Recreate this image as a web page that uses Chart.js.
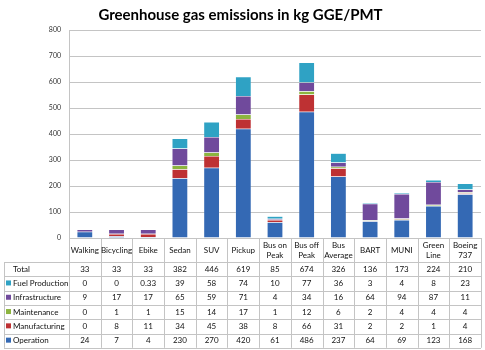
<!DOCTYPE html>
<html>
<head>
<meta charset="utf-8">
<script src="https://cdn.jsdelivr.net/npm/chart.js@4"></script>
<style>
  html, body { margin: 0; padding: 0; background: #fff; }
  #wrap { width: 485px; height: 350px; }
</style>
</head>
<body>
<div id="wrap"><canvas id="c"></canvas></div>
<script>
// categories (multi-line where the table header wraps)
const categories = ['Walking', 'Bicycling', 'Ebike', 'Sedan', 'SUV', 'Pickup',
  ['Bus on', 'Peak'], ['Bus off', 'Peak'], ['Bus', 'Average'], 'BART', 'MUNI',
  ['Green', 'Line'], ['Boeing', '737']];

// series values, kg GGE/PMT
const operation      = [24, 7, 4, 230, 270, 420, 61, 486, 237, 64, 69, 123, 168];
const manufacturing  = [0, 8, 11, 34, 45, 38, 8, 66, 31, 2, 2, 1, 4];
const maintenance    = [0, 1, 1, 15, 14, 17, 1, 12, 6, 2, 4, 4, 4];
const infrastructure = [9, 17, 17, 65, 59, 71, 4, 34, 16, 64, 94, 87, 11];
const fuelProduction = [0, 0, 0.33, 39, 58, 74, 10, 77, 36, 3, 4, 8, 23];
const totals         = [33, 33, 33, 382, 446, 619, 85, 674, 326, 136, 173, 224, 210];

const yTicks = [0, 100, 200, 300, 400, 500, 600, 700, 800];

const colors = {
  operation: '#3469b4',
  manufacturing: '#be3133',
  maintenance: '#8cb43f',
  infrastructure: '#704a9c',
  fuel: '#2fa2c4'
};

const FONT = 'Lato, "Open Sans", sans-serif';
const gridColor = '#c4c4c4';

// table rows drawn under the plot (top to bottom)
const tableRows = [
  { label: 'Total', values: totals, color: null },
  { label: 'Fuel Production', values: fuelProduction, color: colors.fuel },
  { label: 'Infrastructure', values: infrastructure, color: colors.infrastructure },
  { label: 'Maintenance', values: maintenance, color: colors.maintenance },
  { label: 'Manufacturing', values: manufacturing, color: colors.manufacturing },
  { label: 'Operation', values: operation, color: colors.operation }
];

// 画数据表
const dataTable = {
  id: 'dataTable',
  afterDraw(chart) {
    const ctx = chart.ctx;
    const x = chart.scales.x;
    const top = chart.chartArea.bottom;
    const n = categories.length;
    const colW = (x.right - x.left) / n;
    const headH = 24;
    const rowH = 14.3;
    const tableLeft = 4;
    const bodyTop = top + headH;
    const bottom = bodyTop + rowH * tableRows.length;

    ctx.save();
    ctx.strokeStyle = gridColor;
    ctx.lineWidth = 1;

    // vertical lines
    for (let i = 0; i <= n; i++) {
      const px = Math.round(x.left + i * colW) + 0.5;
      ctx.beginPath();
      ctx.moveTo(px, top);
      ctx.lineTo(px, bottom);
      ctx.stroke();
    }
    ctx.beginPath();
    ctx.moveTo(tableLeft + 0.5, bodyTop);
    ctx.lineTo(tableLeft + 0.5, bottom);
    ctx.stroke();

    // horizontal lines
    for (let r = 0; r <= tableRows.length; r++) {
      const py = Math.round(bodyTop + r * rowH) + 0.5;
      ctx.beginPath();
      ctx.moveTo(tableLeft, py);
      ctx.lineTo(x.right, py);
      ctx.stroke();
    }

    ctx.fillStyle = '#111';
    ctx.textAlign = 'center';
    ctx.textBaseline = 'middle';
    ctx.font = '8px ' + FONT;

    // header
    categories.forEach((c, i) => {
      const cx = x.left + (i + 0.5) * colW;
      const lines = Array.isArray(c) ? c : [c];
      const cy = top + headH / 2;
      lines.forEach((l, k) => {
        ctx.fillText(l, cx, cy + (k - (lines.length - 1) / 2) * 10);
      });
    });

    // rows
    tableRows.forEach((row, r) => {
      const cy = bodyTop + (r + 0.5) * rowH;
      ctx.textAlign = 'left';
      if (row.color) {
        ctx.fillStyle = row.color;
        ctx.fillRect(tableLeft + 2, cy - 3, 5, 5);
        ctx.fillStyle = '#111';
      }
      ctx.fillText(row.label, tableLeft + 9, cy);
      ctx.textAlign = 'center';
      row.values.forEach((v, i) => {
        ctx.fillText(String(v), x.left + (i + 0.5) * colW, cy);
      });
    });
    ctx.restore();
  }
};

function ds(label, data, color) {
  return {
    label: label,
    data: data,
    backgroundColor: color,
    borderColor: 'rgba(255,255,255,0.35)',
    borderWidth: 0.5,
    categoryPercentage: 1,
    barPercentage: 0.5
  };
}

new Chart(document.getElementById('c'), {
  type: 'bar',
  data: {
    labels: categories,
    datasets: [
      ds('Operation', operation, colors.operation),
      ds('Manufacturing', manufacturing, colors.manufacturing),
      ds('Maintenance', maintenance, colors.maintenance),
      ds('Infrastructure', infrastructure, colors.infrastructure),
      ds('Fuel Production', fuelProduction, colors.fuel)
    ]
  },
  options: {
    responsive: true,
    maintainAspectRatio: false,
    animation: false,
    layout: { padding: { left: 0, right: 4, top: 0, bottom: 112 } },
    plugins: {
      legend: { display: false },
      tooltip: { enabled: false },
      title: {
        display: true,
        text: 'Greenhouse gas emissions in kg GGE/PMT',
        color: '#000',
        font: { family: FONT, size: 15, weight: 'bold' },
        padding: { top: 6, bottom: 6 }
      }
    },
    scales: {
      x: {
        stacked: true,
        ticks: { display: false },
        grid: { display: false },
        border: { display: true, color: gridColor },
        afterFit(scale) { scale.height = 0; }
      },
      y: {
        stacked: true,
        min: 0,
        max: 800,
        afterBuildTicks(scale) { scale.ticks = yTicks.map(v => ({ value: v })); },
        ticks: {
          color: '#333',
          font: { family: FONT, size: 7 },
          padding: 8
        },
        grid: { color: gridColor, drawTicks: false },
        border: { color: gridColor },
        afterFit(scale) { scale.width = 69; }
      }
    }
  },
  plugins: [dataTable]
});
</script>
</body>
</html>
